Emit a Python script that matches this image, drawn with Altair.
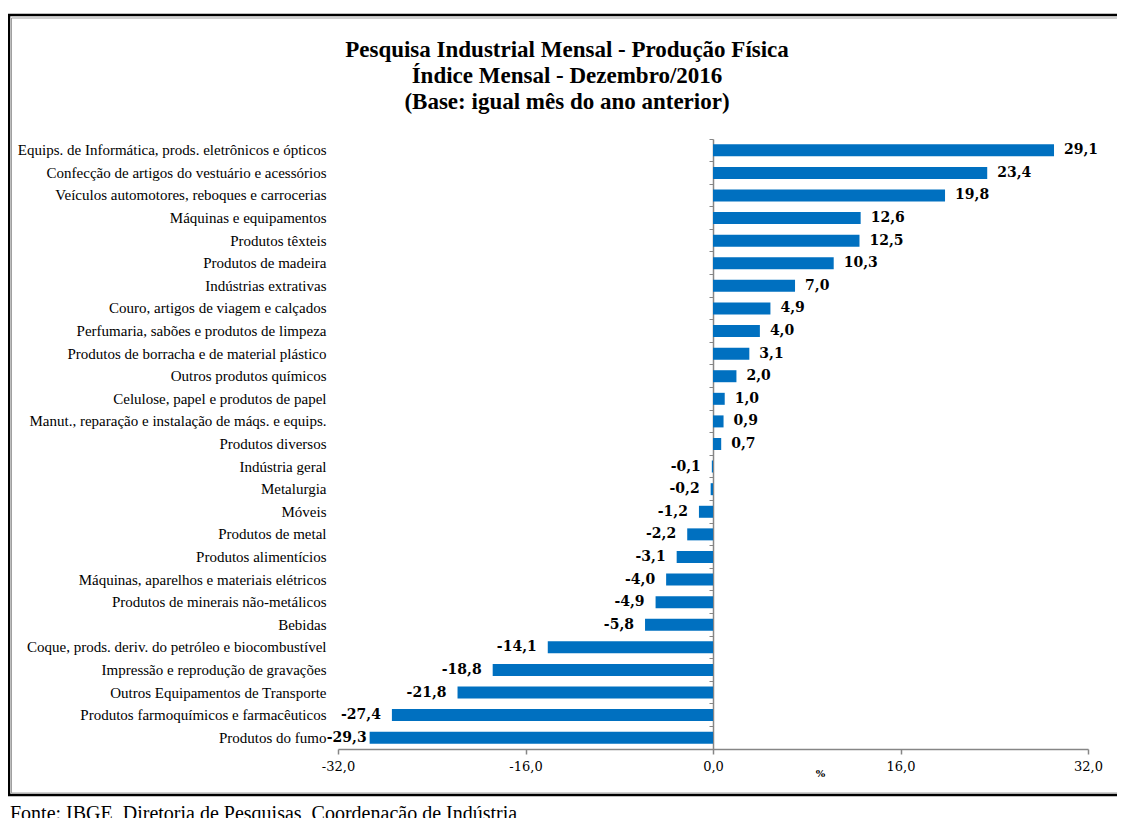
import altair as alt
import pandas as pd

categories = [
    "Equips. de Informática, prods. eletrônicos e ópticos",
    "Confecção de artigos do vestuário e acessórios",
    "Veículos automotores, reboques e carrocerias",
    "Máquinas e equipamentos",
    "Produtos têxteis",
    "Produtos de madeira",
    "Indústrias extrativas",
    "Couro, artigos de viagem e calçados",
    "Perfumaria, sabões e produtos de limpeza",
    "Produtos de borracha e de material plástico",
    "Outros produtos químicos",
    "Celulose, papel e produtos de papel",
    "Manut., reparação e instalação de máqs. e equips.",
    "Produtos diversos",
    "Indústria geral",
    "Metalurgia",
    "Móveis",
    "Produtos de metal",
    "Produtos alimentícios",
    "Máquinas, aparelhos e materiais elétricos",
    "Produtos de minerais não-metálicos",
    "Bebidas",
    "Coque, prods. deriv. do petróleo e biocombustível",
    "Impressão e reprodução de gravações",
    "Outros Equipamentos de Transporte",
    "Produtos farmoquímicos e farmacêuticos",
    "Produtos do fumo",
]
values = [29.1, 23.4, 19.8, 12.6, 12.5, 10.3, 7.0, 4.9, 4.0, 3.1, 2.0, 1.0, 0.9, 0.7,
          -0.1, -0.2, -1.2, -2.2, -3.1, -4.0, -4.9, -5.8, -14.1, -18.8, -21.8, -27.4, -29.3]
x_ticks = [-32, -16, 0, 16, 32]
title_lines = [
    "Pesquisa Industrial Mensal - Produção Física",
    "Índice Mensal - Dezembro/2016",
    "(Base: igual mês do ano anterior)",
]
source_text = "Fonte: IBGE, Diretoria de Pesquisas, Coordenação de Indústria"
x_title = "%"

df = pd.DataFrame({"cat": categories, "v": values})
df["lab"] = [f"{v:.1f}".replace(".", ",") for v in values]

GRAY = "#868686"
BLUE = "#0070C0"
W, H = 750, 610

yscale = alt.Scale(domain=categories, paddingInner=0, paddingOuter=0)
xscale = alt.Scale(domain=[-32, 32], nice=False)

xaxis = alt.Axis(
    values=x_ticks, grid=False, domainColor=GRAY, domainWidth=1.5,
    tickColor=GRAY, tickWidth=1.5, tickSize=5,
    labelFont="DejaVu Serif", labelFontSize=13, labelColor="black",
    labelPadding=6, labelFlush=False, labelOverlap=False,
    labelExpr="replace(replace(format(datum.value, '.1f'), '.', ','), '\u2212', '-')",
    title=x_title, titleFont="DejaVu Serif", titleFontSize=10, titleFontWeight="bold",
    titleColor="black", titleX=482, titleY=24, titleAlign="center", titleBaseline="middle",
)

yaxis = alt.Axis(
    title=None, orient="left", offset=-W / 2, grid=False,
    domain=True, domainColor=GRAY, domainWidth=1.5,
    ticks=True, tickColor=GRAY, tickWidth=1, tickSize=4, bandPosition=0,
    labelFont="Liberation Serif", labelFontSize=15, labelColor="black",
    labelPadding=W / 2 + 12 - 4, labelLimit=600, labelOverlap=False,
)

bars = alt.Chart(df).mark_bar(size=12, color=BLUE).encode(
    x=alt.X("v:Q", scale=xscale, axis=xaxis),
    y=alt.Y("cat:N", sort=categories, scale=yscale, axis=yaxis),
)

text_style = dict(baseline="middle", font="DejaVu Serif", fontSize=14,
                  fontWeight="bold", color="black")

pos_text = alt.Chart(df).transform_filter("datum.v >= 0").mark_text(
    align="left", dx=10, **text_style
).encode(x=alt.X("v:Q"), y=alt.Y("cat:N", sort=categories), text="lab:N")

# labels of negative bars; the one reaching the plot edge is pulled in (as Excel clamps it)
neg_text = alt.Chart(df).transform_filter("datum.v < 0 && datum.v > -28").mark_text(
    align="right", dx=-11, **text_style
).encode(x=alt.X("v:Q"), y=alt.Y("cat:N", sort=categories), text="lab:N")

edge_text = alt.Chart(df).transform_filter("datum.v <= -28").mark_text(
    align="right", dx=-3, **text_style
).encode(x=alt.X("v:Q"), y=alt.Y("cat:N", sort=categories), text="lab:N")

one = pd.DataFrame({"k": [0]})
frame = alt.Chart(one).mark_rect(fillOpacity=0, stroke="black", strokeWidth=2.5).encode(
    x=alt.value(-329), x2=alt.value(840), y=alt.value(-124), y2=alt.value(656)
)
inner = alt.Chart(one).mark_rect(fillOpacity=0, stroke="#a0a0a0", strokeWidth=1).encode(
    x=alt.value(-326.5), x2=alt.value(840), y=alt.value(-121), y2=alt.value(654)
)

title = alt.Chart(pd.DataFrame({"t": ["\n".join(title_lines)]})).mark_text(
    align="center", baseline="middle", font="Liberation Serif", fontSize=23,
    fontWeight="bold", lineBreak="\n", lineHeight=26, color="black",
).encode(x=alt.value(229), y=alt.value(-89), text="t:N")

source = alt.Chart(pd.DataFrame({"t": [source_text]})).mark_text(
    align="left", baseline="top", font="Liberation Serif", fontSize=20, color="black",
).encode(x=alt.value(-328), y=alt.value(665), text="t:N")

chart = alt.layer(bars, pos_text, neg_text, edge_text, frame, inner, title, source).properties(
    width=W, height=H,
    padding={"left": 330, "top": 131, "right": 29, "bottom": 69},
    autosize=alt.AutoSizeParams(type="none"),
).configure_view(stroke=None)

chart.save("out.html", embed_options={"renderer": "svg", "actions": False})
